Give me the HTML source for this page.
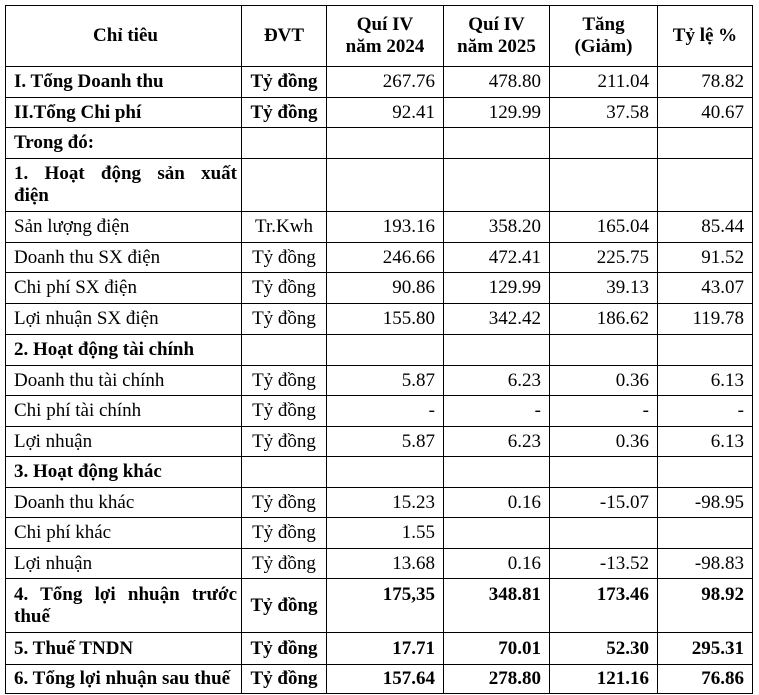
<!DOCTYPE html>
<html><head><meta charset="utf-8"><style>
body{margin:0;background:#fff;width:759px;height:695px;overflow:hidden}
table{position:absolute;left:5px;top:5px;border-collapse:collapse;font-family:"Liberation Serif",serif;font-size:19px;color:#000;table-layout:fixed}
td{border:1px solid #000;padding:0 8px;vertical-align:middle;line-height:22px;overflow:hidden}
td:first-child{padding:0 4px 0 8px;white-space:normal}
.c{text-align:center}.r{text-align:right}.b{font-weight:bold}
.j{text-align:justify;text-align-last:left}
.n{white-space:nowrap}
</style></head><body>
<table>
<colgroup><col style="width:236px"><col style="width:85px"><col style="width:117px"><col style="width:106px"><col style="width:108px"><col style="width:95px"></colgroup>
<tr style="height:61px" class="b"><td class="c">Chỉ tiêu</td><td class="c">ĐVT</td><td class="c">Quí IV<br>năm 2024</td><td class="c">Quí IV<br>năm 2025</td><td class="c">Tăng<br>(Giảm)</td><td class="c">Tỷ lệ %</td></tr>
<tr style="height:31px"><td class="b">I. Tổng Doanh thu</td><td class="c b n">Tỷ đồng</td><td class="r">267.76</td><td class="r">478.80</td><td class="r">211.04</td><td class="r">78.82</td></tr>
<tr style="height:30px"><td class="b">II.Tổng Chi phí</td><td class="c b n">Tỷ đồng</td><td class="r">92.41</td><td class="r">129.99</td><td class="r">37.58</td><td class="r">40.67</td></tr>
<tr style="height:31px"><td class="b">Trong đó:</td><td></td><td></td><td></td><td></td><td></td></tr>
<tr style="height:53px"><td class="b j" style="word-spacing:6px">1. Hoạt động sản xuất điện</td><td></td><td></td><td></td><td></td><td></td></tr>
<tr style="height:31px"><td>Sản lượng điện</td><td class="c n">Tr.Kwh</td><td class="r">193.16</td><td class="r">358.20</td><td class="r">165.04</td><td class="r">85.44</td></tr>
<tr style="height:30px"><td>Doanh thu SX điện</td><td class="c n">Tỷ đồng</td><td class="r">246.66</td><td class="r">472.41</td><td class="r">225.75</td><td class="r">91.52</td></tr>
<tr style="height:31px"><td>Chi phí SX điện</td><td class="c n">Tỷ đồng</td><td class="r">90.86</td><td class="r">129.99</td><td class="r">39.13</td><td class="r">43.07</td></tr>
<tr style="height:31px"><td>Lợi nhuận SX điện</td><td class="c n">Tỷ đồng</td><td class="r">155.80</td><td class="r">342.42</td><td class="r">186.62</td><td class="r">119.78</td></tr>
<tr style="height:31px"><td class="b">2. Hoạt động tài chính</td><td></td><td></td><td></td><td></td><td></td></tr>
<tr style="height:30px"><td>Doanh thu tài chính</td><td class="c n">Tỷ đồng</td><td class="r">5.87</td><td class="r">6.23</td><td class="r">0.36</td><td class="r">6.13</td></tr>
<tr style="height:31px"><td>Chi phí tài chính</td><td class="c n">Tỷ đồng</td><td class="r">-</td><td class="r">-</td><td class="r">-</td><td class="r">-</td></tr>
<tr style="height:30px"><td>Lợi nhuận</td><td class="c n">Tỷ đồng</td><td class="r">5.87</td><td class="r">6.23</td><td class="r">0.36</td><td class="r">6.13</td></tr>
<tr style="height:31px"><td class="b">3. Hoạt động khác</td><td></td><td></td><td></td><td></td><td></td></tr>
<tr style="height:30px"><td>Doanh thu khác</td><td class="c n">Tỷ đồng</td><td class="r">15.23</td><td class="r">0.16</td><td class="r">-15.07</td><td class="r">-98.95</td></tr>
<tr style="height:31px"><td>Chi phí khác</td><td class="c n">Tỷ đồng</td><td class="r">1.55</td><td></td><td></td><td></td></tr>
<tr style="height:30px"><td>Lợi nhuận</td><td class="c n">Tỷ đồng</td><td class="r">13.68</td><td class="r">0.16</td><td class="r">-13.52</td><td class="r">-98.83</td></tr>
<tr style="height:54px" class="b"><td class="j" style="word-spacing:4px">4. Tổng lợi nhuận trước thuế</td><td class="c n">Tỷ đồng</td><td class="r" style="vertical-align:top;padding-top:5px">175,35</td><td class="r" style="vertical-align:top;padding-top:5px">348.81</td><td class="r" style="vertical-align:top;padding-top:5px">173.46</td><td class="r" style="vertical-align:top;padding-top:5px">98.92</td></tr>
<tr style="height:32px" class="b"><td>5. Thuế TNDN</td><td class="c n">Tỷ đồng</td><td class="r">17.71</td><td class="r">70.01</td><td class="r">52.30</td><td class="r">295.31</td></tr>
<tr style="height:29px" class="b"><td class="n">6. Tổng lợi nhuận sau thuế</td><td class="c n">Tỷ đồng</td><td class="r">157.64</td><td class="r">278.80</td><td class="r">121.16</td><td class="r">76.86</td></tr>
</table>
</body></html>
